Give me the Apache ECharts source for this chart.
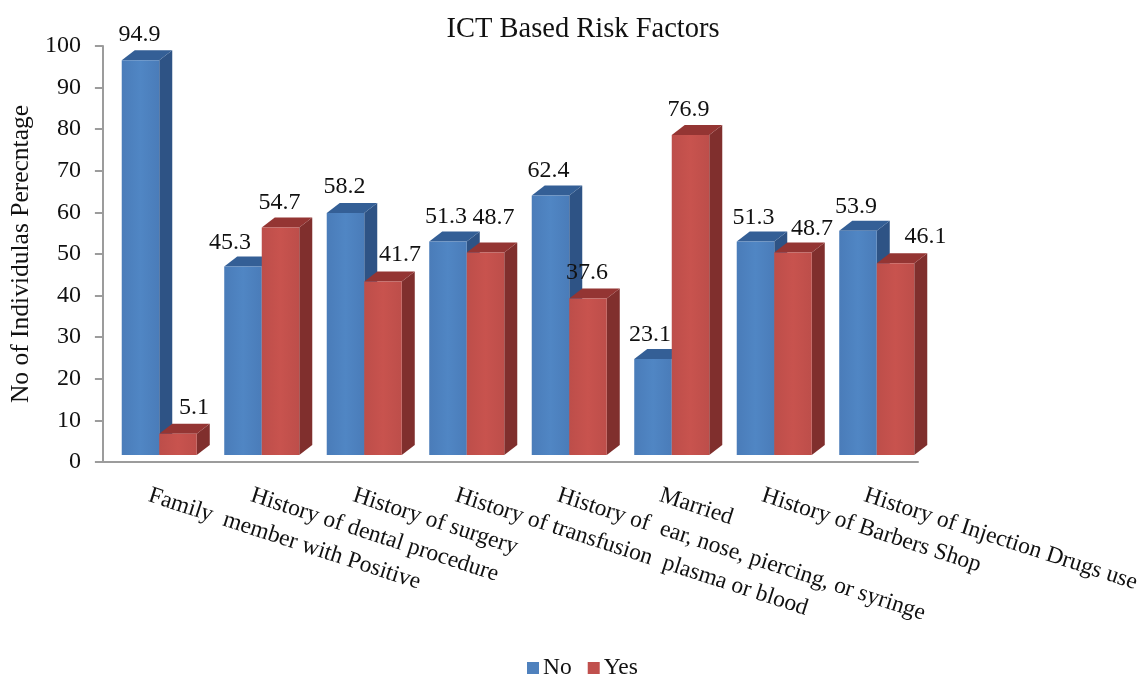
<!DOCTYPE html>
<html>
<head>
<meta charset="utf-8">
<style>
  html, body { margin: 0; padding: 0; background: #fff; }
  #chart { width: 1143px; height: 677px; }
</style>
<script src="https://cdn.jsdelivr.net/npm/echarts@6/dist/echarts.min.js"></script>
</head>
<body>
<div id="chart"></div>
<script>
var categories = [
  'Family  member with Positive',
  'History of dental procedure',
  'History of surgery',
  'History of transfusion  plasma or blood',
  'History of  ear, nose, piercing, or syringe',
  'Married',
  'History of Barbers Shop',
  'History of Injection Drugs use'
];
var noValues = [94.9, 45.3, 58.2, 51.3, 62.4, 23.1, 51.3, 53.9];
var yesValues = [5.1, 54.7, 41.7, 48.7, 37.6, 76.9, 48.7, 46.1];

var FONT = '"Liberation Serif", "Times New Roman", serif';
var DEPTH_X = 13;
var DEPTH_Y = 10;

// the labels were placed by hand in the original, [dx, dy] from the top centre of the bar front
var noLabelShift = [[-1, -26], [-13, -24], [-1, -26], [-2, -25], [-2, -25], [-3, -24], [-2, -24], [-2, -24]];
var yesLabelShift = [[16, -26], [-1, -25], [17, -27], [8, -35], [-1, -26], [-2, -25], [19, -24], [30, -27]];

function sideFade(edge, mid) {
  return new echarts.graphic.LinearGradient(0, 0, 1, 0, [
    { offset: 0, color: edge },
    { offset: 0.5, color: mid },
    { offset: 1, color: edge }
  ]);
}

// side = -1 draws left of the category centre, 1 draws right of it
function bar3d(side, shifts, front, right, top) {
  return function (params, api) {
    var i = api.value(0);
    var v = api.value(1);
    var p = api.coord([i, v]);
    var base = api.coord([i, 0]);
    var w = api.size([1, 0])[0] * 0.366;
    var x0 = side < 0 ? p[0] - w : p[0];
    var x1 = x0 + w;
    var dx = DEPTH_X, dy = DEPTH_Y;
    return {
      type: 'group',
      children: [
        {
          type: 'polygon',
          shape: { points: [[x1, p[1]], [x1 + dx, p[1] - dy], [x1 + dx, base[1] - dy], [x1, base[1]]] },
          style: { fill: right }
        },
        {
          type: 'polygon',
          shape: { points: [[x0, p[1]], [x0 + dx, p[1] - dy], [x1 + dx, p[1] - dy], [x1, p[1]]] },
          style: { fill: top }
        },
        {
          type: 'rect',
          shape: { x: x0, y: p[1], width: w, height: base[1] - p[1] },
          style: { fill: front }
        },
        {
          type: 'text',
          z2: 20,
          style: {
            text: v.toFixed(1),
            x: (x0 + x1) / 2 + shifts[i][0],
            y: p[1] + shifts[i][1],
            align: 'center',
            verticalAlign: 'middle',
            fill: '#111',
            font: '24px ' + FONT
          }
        }
      ]
    };
  };
}

function toData(values) {
  return values.map(function (v, i) { return [i, v]; });
}

var chart = echarts.init(document.getElementById('chart'));
chart.setOption({
  backgroundColor: '#fff',
  animation: false,
  textStyle: { fontFamily: FONT },
  title: {
    text: 'ICT Based Risk Factors',
    left: 578,
    top: 10,
    textAlign: 'center',
    textStyle: { fontFamily: FONT, fontWeight: 'normal', fontSize: 28.5, color: '#111' }
  },
  legend: {
    left: 522,
    top: 651,
    itemWidth: 12,
    itemHeight: 12,
    itemGap: 16,
    icon: 'rect',
    textStyle: { fontFamily: FONT, fontSize: 23.5, color: '#111', padding: [0, 0, 0, -1] },
    data: ['No', 'Yes']
  },
  grid: [
    { left: 98, top: 46, width: 820, height: 416 }, // visible axes
    { left: 108, top: 39, width: 820, height: 416 }, // front plane of the bars
    { left: 98, top: 46, width: 820, height: 416 }  // category text
  ],
  xAxis: [
    {
      gridIndex: 0, type: 'category', data: categories,
      axisLine: { lineStyle: { color: '#9c9c9c', width: 2 } },
      axisTick: { show: false },
      axisLabel: { show: false }
    },
    { gridIndex: 1, type: 'category', data: categories, show: false },
    {
      gridIndex: 2, type: 'category', data: categories,
      axisLine: { show: false },
      axisTick: { show: false },
      axisLabel: {
        interval: 0,
        rotate: -18,
        margin: 33,
        fontFamily: FONT,
        fontSize: 23.5,
        color: '#111',
        hideOverlap: false
      }
    }
  ],
  yAxis: [
    {
      gridIndex: 0, type: 'value', min: 0, max: 100, interval: 10,
      name: 'No of Individulas Perecntage',
      nameLocation: 'middle',
      nameRotate: 90,
      nameGap: 64,
      nameTextStyle: { fontFamily: FONT, fontSize: 25.5, color: '#111' },
      axisLine: { show: true, lineStyle: { color: '#9c9c9c', width: 2 } },
      axisTick: { show: true, length: 8, lineStyle: { color: '#9c9c9c', width: 2 } },
      axisLabel: { fontFamily: FONT, fontSize: 24, color: '#111', margin: 22 },
      splitLine: { show: false }
    },
    { gridIndex: 1, type: 'value', min: 0, max: 100, show: false, splitLine: { show: false } },
    { gridIndex: 2, type: 'value', min: 0, max: 100, show: false, splitLine: { show: false } }
  ],
  series: [
    {
      name: 'No',
      type: 'custom',
      xAxisIndex: 1,
      yAxisIndex: 1,
      z: 3,
      itemStyle: { color: '#4f81bd' },
      renderItem: bar3d(-1, noLabelShift, sideFade('#4a7cb9', '#5086c4'), '#2e5385', '#345f96'),
      encode: { x: 0, y: 1 },
      data: toData(noValues)
    },
    {
      name: 'Yes',
      type: 'custom',
      xAxisIndex: 1,
      yAxisIndex: 1,
      z: 3,
      itemStyle: { color: '#c0504d' },
      renderItem: bar3d(1, yesLabelShift, sideFade('#bd4e4a', '#c8534e'), '#802f2d', '#943533'),
      encode: { x: 0, y: 1 },
      data: toData(yesValues)
    }
  ]
});
</script>
</body>
</html>
